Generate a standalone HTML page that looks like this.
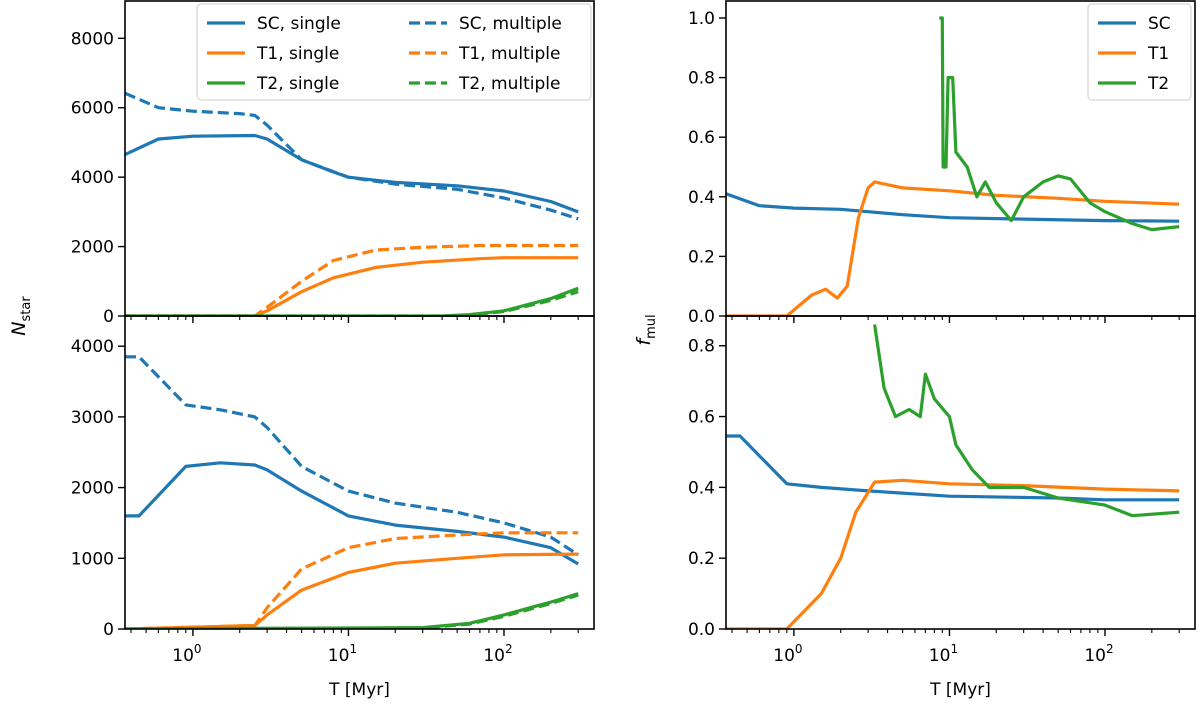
<!DOCTYPE html>
<html><head><meta charset="utf-8"><style>
body{margin:0;background:#fff;}
svg text{font-family:"DejaVu Sans","Liberation Sans",sans-serif;font-size:17px;fill:#000;}
</style></head><body>
<svg id="c" width="1200" height="700"></svg>
<script>
// ---- data (T in Myr) ----
const tlSCsingleT=[0.366,0.6,1,2.5,3,5,8,10,20,50,100,200,300];
const tlSCsingleV=[4650,5100,5180,5200,5100,4500,4150,4000,3850,3750,3600,3300,3000];
const tlSCmultT=[0.366,0.6,1,2,2.5,3,5,10,20,50,100,200,300];
const tlSCmultV=[6420,6000,5900,5830,5780,5500,4500,4000,3800,3650,3400,3050,2800];
const tlT1singleT=[0.366,2.5,3,5,8,15,30,70,100,300];
const tlT1singleV=[0,0,150,700,1100,1400,1550,1650,1680,1680];
const tlT1multT=[0.366,2.5,3,5,8,15,30,70,300];
const tlT1multV=[0,0,250,1000,1600,1900,1980,2030,2030];
const tlT2singleT=[0.366,40,60,100,200,300];
const tlT2singleV=[0,0,40,150,500,800];
const tlT2multT=[0.366,40,60,100,200,300];
const tlT2multV=[0,0,30,130,450,700];

const blSCsingleT=[0.366,0.45,0.9,1.5,2.5,3,5,10,20,50,100,200,300];
const blSCsingleV=[1600,1600,2300,2350,2320,2250,1950,1600,1470,1380,1300,1150,920];
const blSCmultT=[0.366,0.45,0.9,1.5,2.5,3,5,10,20,50,100,200,300];
const blSCmultV=[3850,3850,3170,3100,3000,2850,2300,1950,1780,1650,1500,1300,1050];
const blT1singleT=[0.366,2.5,3,5,10,20,50,100,300];
const blT1singleV=[0,50,200,550,800,930,1000,1050,1060];
const blT1multT=[0.366,2.5,3,5,10,20,50,100,300];
const blT1multV=[0,50,300,850,1150,1280,1330,1360,1360];
const blT2singleT=[0.366,30,60,100,200,300];
const blT2singleV=[0,20,80,200,380,500];
const blT2multT=[0.366,30,60,100,200,300];
const blT2multV=[0,15,70,180,360,480];

const trSCT=[0.366,0.6,1,2,3,5,10,30,100,300];
const trSCV=[0.41,0.37,0.362,0.358,0.35,0.34,0.33,0.325,0.32,0.318];
const trT1T=[0.366,0.9,1.3,1.6,1.9,2.2,2.6,3,3.3,5,10,20,50,100,300];
const trT1V=[0,0,0.07,0.09,0.06,0.1,0.33,0.43,0.45,0.43,0.42,0.405,0.395,0.385,0.375];
const trT2T=[8.6,9.0,9.1,9.5,9.8,10.5,11,13,15,17,20,25,30,40,50,60,80,100,150,200,300];
const trT2V=[1.0,1.0,0.5,0.5,0.8,0.8,0.55,0.5,0.4,0.45,0.38,0.32,0.4,0.45,0.47,0.46,0.38,0.35,0.31,0.29,0.3];

const brSCT=[0.366,0.45,0.9,1.5,3,10,50,100,300];
const brSCV=[0.545,0.545,0.41,0.4,0.39,0.375,0.37,0.365,0.365];
const brT1T=[0.366,0.9,1.5,2,2.5,3.3,5,10,30,100,300];
const brT1V=[0,0,0.1,0.2,0.33,0.415,0.42,0.41,0.405,0.395,0.39];
const brT2T=[3.3,3.8,4.5,5.5,6.5,7,8,10,11,14,18,30,50,100,150,300];
const brT2V=[0.86,0.68,0.6,0.62,0.6,0.72,0.65,0.6,0.52,0.45,0.4,0.4,0.37,0.35,0.32,0.33];

const tlTicks=[0,2000,4000,6000,8000];
const blTicks=[0,1000,2000,3000,4000];
const trTicks=[0,0.2,0.4,0.6,0.8,1.0];
const brTicks=[0,0.2,0.4,0.6,0.8];
const xDecades=[0,1,2];

const C={SC:'#1f77b4',T1:'#ff7f0e',T2:'#2ca02c'};
const svg=document.getElementById('c');
const NS='http://www.w3.org/2000/svg';
function mk(tag,attrs,parent){const e=document.createElementNS(NS,tag);for(const k in attrs)e.setAttribute(k,attrs[k]);(parent||svg).appendChild(e);return e;}

function panel(name,x0,x1,y0,y1,ymin,ymax,ticks,fmt,showX,series){
  const sx=t=>x0+(Math.log10(t)-Math.log10(0.366))/(Math.log10(379)-Math.log10(0.366))*(x1-x0);
  const sy=v=>y1-(v-ymin)/(ymax-ymin)*(y1-y0);
  const g=mk('g',{});
  
  
  const cp='cp'+name;
  const cl=mk('clipPath',{id:cp},g);mk('rect',{x:x0,y:y0,width:x1-x0,height:y1-y0},cl);
  series.forEach(s=>{
    const d=s.t.map((t,i)=>(i?'L':'M')+sx(t).toFixed(1)+','+sy(s.v[i]).toFixed(1)).join('');
    const p=mk('path',{d:d,fill:'none',stroke:s.c,'stroke-width':3.2,'clip-path':'url(#'+cp+')','stroke-dasharray':s.dash?'11,5':'none','stroke-linejoin':'round'},g);
    
    
  });
  mk('rect',{x:x0,y:y0,width:x1-x0,height:y1-y0,fill:'none',stroke:'#000','stroke-width':1.6},g);
  ticks.forEach(v=>{const y=sy(v);mk('line',{x1:x0-7,x2:x0,y1:y,y2:y,stroke:'#000','stroke-width':1.4},g);
    const t=mk('text',{x:x0-11,y:y+6,'text-anchor':'end'},g);t.textContent=fmt(v);
    
    });
  for(let d=-1;d<=2;d++)for(let m=1;m<10;m++){const t=m*Math.pow(10,d);if(t<0.366||t>379)continue;
    const x=sx(t);mk('line',{x1:x,x2:x,y1:y1,y2:y1+(m==1?7:4),stroke:'#000','stroke-width':m==1?1.4:1.1},g);}
  if(showX){xDecades.forEach(d=>{const x=sx(Math.pow(10,d));const t=mk('text',{x:x-6,y:y1+32,'text-anchor':'middle'},g);
    t.textContent='10';const s=mk('tspan',{dy:-8,'font-size':'12'},t);s.textContent=d;
    
    });
    const xl=mk('text',{x:(x0+x1)/2,y:y1+66,'text-anchor':'middle'},g);xl.textContent='T [Myr]';
    
    }
}
const i0=n=>String(n), f1=v=>v.toFixed(1);
const L0=125,L1=594,R0=726,R1=1195;
panel('panel-top-left',L0,L1,1,316,0,9075,tlTicks,i0,false,[
 {t:tlSCsingleT,v:tlSCsingleV,c:C.SC,name:'sc-single'},{t:tlSCmultT,v:tlSCmultV,c:C.SC,dash:1,name:'sc-multiple'},
 {t:tlT1singleT,v:tlT1singleV,c:C.T1,name:'t1-single'},{t:tlT1multT,v:tlT1multV,c:C.T1,dash:1,name:'t1-multiple'},
 {t:tlT2singleT,v:tlT2singleV,c:C.T2,name:'t2-single'},{t:tlT2multT,v:tlT2multV,c:C.T2,dash:1,name:'t2-multiple'}]);
panel('panel-bottom-left',L0,L1,316,629,0,4427,blTicks,i0,true,[
 {t:blSCsingleT,v:blSCsingleV,c:C.SC,name:'sc-single'},{t:blSCmultT,v:blSCmultV,c:C.SC,dash:1,name:'sc-multiple'},
 {t:blT1singleT,v:blT1singleV,c:C.T1,name:'t1-single'},{t:blT1multT,v:blT1multV,c:C.T1,dash:1,name:'t1-multiple'},
 {t:blT2singleT,v:blT2singleV,c:C.T2,name:'t2-single'},{t:blT2multT,v:blT2multV,c:C.T2,dash:1,name:'t2-multiple'}]);
panel('panel-top-right',R0,R1,1,316,0,1.057,trTicks,f1,false,[
 {t:trSCT,v:trSCV,c:C.SC,name:'sc'},{t:trT1T,v:trT1V,c:C.T1,name:'t1'},{t:trT2T,v:trT2V,c:C.T2,name:'t2'}]);
panel('panel-bottom-right',R0,R1,316,629,0,0.884,brTicks,f1,true,[
 {t:brSCT,v:brSCV,c:C.SC,name:'sc'},{t:brT1T,v:brT1V,c:C.T1,name:'t1'},{t:brT2T,v:brT2V,c:C.T2,name:'t2'}]);

let yt=mk('text',{x:0,y:0,transform:'translate(25,316) rotate(-90)','text-anchor':'middle'});
yt.innerHTML='<tspan font-style="italic" font-size="19">N</tspan><tspan dy="5" font-size="13">star</tspan>';


yt=mk('text',{x:0,y:0,transform:'translate(650,330) rotate(-90)','text-anchor':'middle'});
yt.innerHTML='<tspan font-style="italic" font-size="19">f</tspan><tspan dy="5" font-size="13">mul</tspan>';



function legend(name,x,y,w,h,items,colW){
  const g=mk('g',{});
  
  
  mk('rect',{x:x,y:y,width:w,height:h,rx:4,fill:'#fff','fill-opacity':0.85,stroke:'#ccc'},g);
  items.forEach((it,i)=>{const c=Math.floor(i/3),r=i%3;const lx=x+10+c*colW,ly=y+25+r*30;
    mk('line',{x1:lx,x2:lx+38,y1:ly-6,y2:ly-6,stroke:it.c,'stroke-width':3.2,'stroke-dasharray':it.dash?'11,5':'none'},g);
    const t=mk('text',{x:lx+50,y:ly},g);t.textContent=it.l;
    
    });
}
legend('legend-left',197,4,394,96,[{l:'SC, single',c:C.SC},{l:'T1, single',c:C.T1},{l:'T2, single',c:C.T2},
 {l:'SC, multiple',c:C.SC,dash:1},{l:'T1, multiple',c:C.T1,dash:1},{l:'T2, multiple',c:C.T2,dash:1}],202);
legend('legend-right',1088,4,103,96,[{l:'SC',c:C.SC},{l:'T1',c:C.T1},{l:'T2',c:C.T2}],0);
</script>
</body></html>
